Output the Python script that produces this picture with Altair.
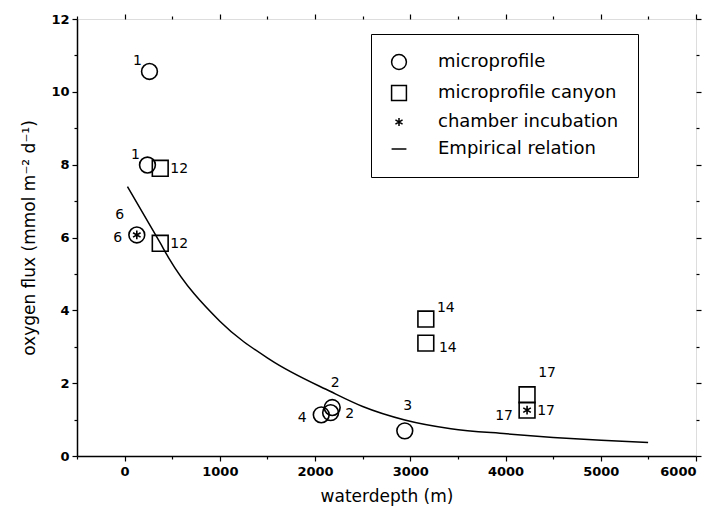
import altair as alt
import pandas as pd

# ---- data ----
micro_x = [261, 240, 2065, 2163, 2180, 2942, 128]
micro_y = [10.56, 7.99, 1.13, 1.19, 1.33, 0.69, 6.07]
micro_lab = ["1", "1", "4", "2", "2", "3", "6"]
micro_pos = ["ul", "ul", "l", "r", "u", "u", "l"]

canyon_x = [374, 374, 3163, 3163, 4226, 4226]
canyon_y = [7.90, 5.84, 3.76, 3.10, 1.68, 1.26]
canyon_lab = ["12", "12", "14", "14", "17", "17"]
canyon_pos = ["r", "r", "ur", "lr", "ur2", "r"]

chamber_x = [128, 4226]
chamber_y = [6.07, 1.26]
chamber_lab = ["6", "17"]
chamber_pos = ["ul_far", "ll"]

curve_x = [30, 374, 461, 1000, 1531, 2163, 2500, 2942, 3426, 4010, 4500, 5005, 5497]
curve_y = [7.40, 5.85, 5.45, 3.70, 2.64, 1.77, 1.36, 0.99, 0.75, 0.61, 0.51, 0.43, 0.37]

categories = ["microprofile", "microprofile canyon", "chamber incubation", "Empirical relation"]
x_ticks = [0, 1000, 2000, 3000, 4000, 5000, 6000]
y_ticks = [0, 2, 4, 6, 8, 10, 12]
x_minor = [-500, 500, 1500, 2500, 3500, 4500, 5500]
y_minor = [1, 3, 5, 7, 9, 11]

# ---- build tables ----
offsets = {
    "ul": (-12, -10), "ul_far": (-17, -20), "l": (-19, 3), "r": (19, 1),
    "u": (3, -25), "ur": (20, -11), "lr": (22, 5), "ur2": (20, -22), "ll": (-23, 6),
}

rows = []
for xs, ys, labs, poss, cat in [
    (micro_x, micro_y, micro_lab, micro_pos, categories[0]),
    (canyon_x, canyon_y, canyon_lab, canyon_pos, categories[1]),
    (chamber_x, chamber_y, chamber_lab, chamber_pos, categories[2]),
]:
    for x, y, l, p in zip(xs, ys, labs, poss):
        rows.append({"depth": x, "flux": y, "label": l, "pos": p, "type": cat})
pts = pd.DataFrame(rows)
curve = pd.DataFrame({"depth": curve_x, "flux": curve_y})

asterisk = "M0,-0.55L0,0.55M-0.48,-0.28L0.48,0.28M-0.48,0.28L0.48,-0.28"

FONT = "DejaVu Sans"
xscale = alt.Scale(domain=[-500, 6000], nice=False, zero=False)
yscale = alt.Scale(domain=[0, 12], nice=False)

common = dict(grid=False, domainColor="black", tickColor="black", labelColor="black",
              titleColor="black", domainWidth=1.5, tickWidth=1.2)

xaxis = alt.Axis(values=x_ticks, title="waterdepth (m)", format="d",
                 labelFont=FONT, labelFontSize=13, labelFontWeight="bold",
                 titleFont=FONT, titleFontSize=17, titleFontWeight="normal",
                 titlePadding=10, tickSize=5, labelPadding=4, **common)
yaxis = alt.Axis(values=y_ticks, title="oxygen flux (mmol m⁻² d⁻¹)",
                 labelFont=FONT, labelFontSize=13, labelFontWeight="bold",
                 titleFont=FONT, titleFontSize=17, titleFontWeight="normal",
                 titlePadding=12, tickSize=5, labelPadding=3, **common)


def bare_axis(orient, values, size):
    return alt.Axis(orient=orient, values=values, labels=False, title=None,
                    tickSize=size, domain=False, **{k: v for k, v in common.items() if k != "domainWidth"})


line = alt.Chart(curve).mark_line(color="black", strokeWidth=1.5, interpolate="monotone").encode(
    x=alt.X("depth:Q", scale=xscale, axis=xaxis),
    y=alt.Y("flux:Q", scale=yscale, axis=yaxis),
)

points = alt.Chart(pts).mark_point(filled=False, color="black", strokeWidth=1.6, size=250, opacity=1).encode(
    x=alt.X("depth:Q", scale=xscale, axis=None),
    y=alt.Y("flux:Q", scale=yscale, axis=None),
    shape=alt.Shape("type:N",
                    scale=alt.Scale(domain=categories,
                                    range=["circle", "square", asterisk, "stroke"]),
                    legend=alt.Legend(title=None, orient="none", legendX=294, legendY=15,
                                      strokeColor="black", fillColor="white", padding=19,
                                      labelFont=FONT, labelFontSize=18, labelColor="black",
                                      symbolSize=220, symbolStrokeColor="black",
                                      symbolStrokeWidth=1.5, symbolFillColor="transparent",
                                      labelOffset=30, rowPadding=9, labelLimit=400)),
)

label_layers = []
for code, (dx, dy) in offsets.items():
    label_layers.append(
        alt.Chart(pts).transform_filter(alt.datum.pos == code).mark_text(
            font=FONT, fontSize=14, color="black", dx=dx, dy=dy, align="center", baseline="middle"
        ).encode(
            x=alt.X("depth:Q", scale=xscale, axis=None),
            y=alt.Y("flux:Q", scale=yscale, axis=None),
            text="label:N",
        )
    )

# helper layers that only carry extra tick marks (frame ticks and minor ticks)
tick_layers = []
for xo, yo, xv, yv, sz in [
    ("top", "right", x_ticks, y_ticks, 5),
    ("bottom", "left", x_minor, y_minor, 3),
    ("top", "right", x_minor, y_minor, 3),
]:
    tick_layers.append(
        alt.Chart(curve).mark_point(opacity=0).encode(
            x=alt.X("depth:Q", scale=xscale, axis=bare_axis(xo, xv, sz)),
            y=alt.Y("flux:Q", scale=yscale, axis=bare_axis(yo, yv, sz)),
        )
    )

chart = alt.layer(line, points, *label_layers, *tick_layers).resolve_axis(
    x="independent", y="independent"
).properties(
    width=619, height=437,
    autosize=alt.AutoSizeParams(type="none"),
    padding={"left": 69, "top": 11, "right": 8, "bottom": 50},
).configure_view(stroke="black", strokeWidth=1.5).configure(background="white")

chart.save("out.html", embed_options={"renderer": "svg", "actions": False})
